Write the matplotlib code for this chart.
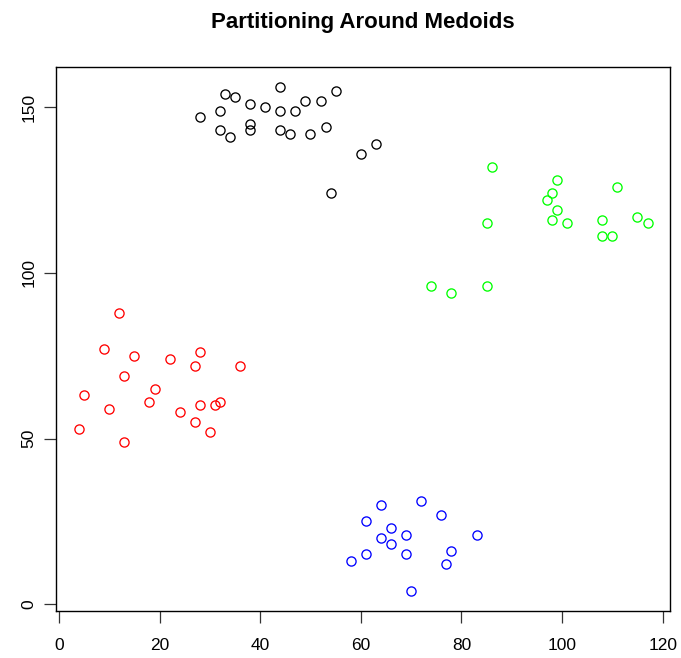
import matplotlib
matplotlib.use("Agg")
import matplotlib.pyplot as plt

# Ruspini-like data
x = [4, 5, 10, 9, 13, 13, 12, 15, 18, 19, 22, 27, 28, 24, 27, 28, 30, 31, 32, 36,
     28, 32, 35, 33, 38, 41, 38, 38, 32, 34, 44, 44, 44, 46, 47, 49, 50, 53, 52, 55,
     54, 60, 63,
     86, 85, 85, 78, 74, 97, 98, 98, 99, 99, 101, 108, 110, 108, 111, 115, 117,
     70, 77, 83, 61, 69, 78, 66, 58, 64, 69, 66, 61, 76, 72, 64]
y = [53, 63, 59, 77, 49, 69, 88, 75, 61, 65, 74, 72, 76, 58, 55, 60, 52, 60, 61, 72,
     147, 149, 153, 154, 151, 150, 145, 143, 143, 141, 156, 149, 143, 142, 149, 152, 142, 144, 152, 155,
     124, 136, 139,
     132, 115, 96, 94, 96, 122, 116, 124, 119, 128, 115, 111, 111, 116, 126, 117, 115,
     4, 12, 21, 15, 15, 16, 18, 13, 20, 21, 23, 25, 27, 31, 30]
cluster = [2] * 20 + [1] * 23 + [3] * 17 + [4] * 15
cluster_colors = {1: "#000000", 2: "#FF0000", 3: "#00FF00", 4: "#0000FF"}
x_ticks = [0, 20, 40, 60, 80, 100, 120]
y_ticks = [0, 50, 100, 150]
title = "Partitioning Around Medoids"

plt.rcParams['font.family'] = ['Liberation Sans', 'DejaVu Sans']

W, H = 681, 658
fig = plt.figure(figsize=(W / 100, H / 100), dpi=100)
ax = fig.add_axes([56.3 / W, 1 - 611 / H, (670.3 - 56.3) / W, (611 - 67.3) / H])

for c in [1, 2, 3, 4]:
    xs = [xi for xi, ci in zip(x, cluster) if ci == c]
    ys = [yi for yi, ci in zip(y, cluster) if ci == c]
    ax.plot(xs, ys, linestyle="none", marker="o", markersize=6.6,
            markerfacecolor="none", markeredgecolor=cluster_colors[c],
            markeredgewidth=0.95)

# R-style 4% axis extension
xr = max(x) - min(x)
yr = max(y) - min(y)
ax.set_xlim(min(x) - 0.04 * xr, max(x) + 0.04 * xr)
ax.set_ylim(min(y) - 0.04 * yr, max(y) + 0.04 * yr)

ax.set_xticks(x_ticks)
ax.set_yticks(y_ticks)
ax.set_xticklabels([str(v) for v in x_ticks])
ax.set_yticklabels([str(v) for v in y_ticks], rotation=90, va="center")
ax.tick_params(direction="out", length=8.5, width=0.9, labelsize=12.5, color="#333333")
ax.tick_params(axis="x", pad=11)
ax.tick_params(axis="y", pad=6)
for s in ax.spines.values():
    s.set_linewidth(1.0)

fig.text((56.3 + 670.3) / 2 / W, 1 - 28 / H, title, ha="center", va="baseline",
         fontsize=16, fontweight="bold")

fig.savefig("out.png", dpi=100)
